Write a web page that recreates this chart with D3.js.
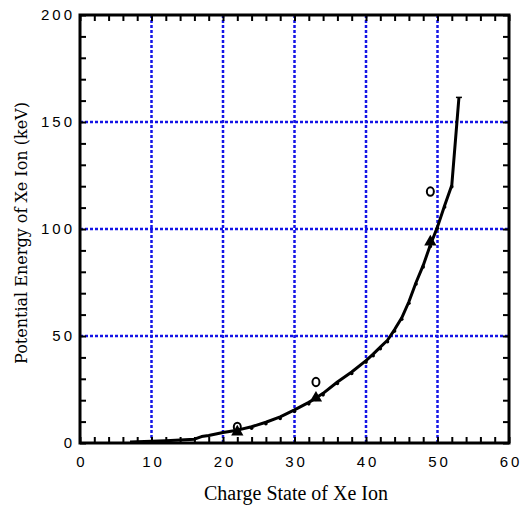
<!DOCTYPE html>
<html>
<head>
<meta charset="utf-8">
<script src="https://cdn.jsdelivr.net/npm/d3@7"></script>
<style>
  body { margin: 0; background: #fff; }
  svg { display: block; }
</style>
</head>
<body>
<svg id="chart"></svg>
<script>
// charge state vs cumulative potential energy (keV)
const curveQ = [7, 8, 10, 12, 14, 16, 17, 18, 20, 22, 24, 26, 28, 30, 32, 33, 34, 36, 38, 40, 41, 42, 43, 44, 45, 46, 47, 48, 49, 50, 51, 52, 53];
const curveE = [0.5, 0.6, 0.8, 1.1, 1.4, 1.8, 3.0, 3.5, 4.9, 6.0, 7.6, 9.7, 12.2, 15.5, 19.0, 21.0, 23.2, 28.5, 33.2, 38.5, 41.5, 44.8, 48.0, 53.0, 58.5, 66.0, 75.0, 83.0, 92.5, 101.0, 111.0, 120.5, 161.5];

const triQ = [22, 33, 49];
const triE = [5.2, 21.0, 94.0];

const circQ = [22, 33, 49];
const circE = [7.5, 28.5, 117.5];

const xTicks = [0, 10, 20, 30, 40, 50, 60];
const yTicks = [0, 50, 100, 150, 200];
const xGrid = [10, 20, 30, 40, 50];
const yGrid = [50, 100, 150];

const width = 522, height = 505;
const margin = {top: 15, right: 13, bottom: 62, left: 80};

const svg = d3.select('#chart')
    .attr('width', width)
    .attr('height', height);

const innerW = width - margin.left - margin.right;
const innerH = height - margin.top - margin.bottom;

const chart = svg.append('g')
    .attr('transform', `translate(${margin.left}, ${margin.top})`);

const xscale = d3.scaleLinear().domain([0, 60]).range([0, innerW]);
const yscale = d3.scaleLinear().domain([0, 200]).range([innerH, 0]);

// grid
chart.selectAll('line.vgrid')
    .data(xGrid)
    .join('line')
    .attr('class', 'vgrid')
    .attr('x1', d => xscale(d)).attr('x2', d => xscale(d))
    .attr('y1', 0).attr('y2', innerH)
    .attr('stroke', '#1414e6')
    .attr('stroke-width', 2.5)
    .attr('stroke-dasharray', '3,2');

chart.selectAll('line.hgrid')
    .data(yGrid)
    .join('line')
    .attr('class', 'hgrid')
    .attr('x1', 0).attr('x2', innerW)
    .attr('y1', d => yscale(d)).attr('y2', d => yscale(d))
    .attr('stroke', '#1414e6')
    .attr('stroke-width', 2.5)
    .attr('stroke-dasharray', '3,2');

// axes with inward ticks on all four sides
const xMinor = d3.range(0, 61, 2);
const yMinor = d3.range(0, 201, 10);

const xBottom = d3.axisBottom(xscale).tickValues(xMinor).tickSize(-6).tickFormat('');
const xTop = d3.axisTop(xscale).tickValues(xMinor).tickSize(-6).tickFormat('');
const yLeft = d3.axisLeft(yscale).tickValues(yMinor).tickSize(-6).tickFormat('');
const yRight = d3.axisRight(yscale).tickValues(yMinor).tickSize(-6).tickFormat('');

chart.append('g').attr('transform', `translate(0, ${innerH})`).call(xBottom);
chart.append('g').call(xTop);
chart.append('g').call(yLeft);
chart.append('g').attr('transform', `translate(${innerW}, 0)`).call(yRight);

chart.selectAll('.domain').remove();
chart.selectAll('.tick line').attr('stroke', '#000').attr('stroke-width', 2);

chart.append('rect')
    .attr('width', innerW)
    .attr('height', innerH)
    .attr('fill', 'none')
    .attr('stroke', '#000')
    .attr('stroke-width', 3);

// tick labels
chart.selectAll('text.xlab')
    .data(xTicks)
    .join('text')
    .attr('class', 'xlab')
    .attr('x', d => xscale(d) + 2)
    .attr('y', innerH + 24)
    .attr('text-anchor', 'middle')
    .style('font-family', 'Liberation Sans, Arial, sans-serif')
    .style('font-size', '15px')
    .style('letter-spacing', '3px')
    .text(d => d);

chart.selectAll('text.ylab')
    .data(yTicks)
    .join('text')
    .attr('class', 'ylab')
    .attr('x', -5)
    .attr('y', d => yscale(d) + 5)
    .attr('text-anchor', 'end')
    .style('font-family', 'Liberation Sans, Arial, sans-serif')
    .style('font-size', '15px')
    .style('letter-spacing', '3px')
    .text(d => d);

// main curve
const pts = curveQ.map((q, i) => ({q: q, e: curveE[i]}));

const line = d3.line()
    .x(d => xscale(d.q))
    .y(d => yscale(d.e));

chart.append('path')
    .datum(pts)
    .attr('fill', 'none')
    .attr('stroke', '#000')
    .attr('stroke-width', 3)
    .attr('stroke-linejoin', 'round')
    .attr('d', line);

chart.selectAll('circle.pt')
    .data(pts.filter(d => d.q >= 24 && d.q < 53))
    .join('circle')
    .attr('class', 'pt')
    .attr('cx', d => xscale(d.q))
    .attr('cy', d => yscale(d.e) + 1.5)
    .attr('r', 1.8)
    .attr('fill', '#000');

// end cap at the last point
const last = pts[pts.length - 1];
chart.append('line')
    .attr('x1', xscale(last.q) - 3).attr('x2', xscale(last.q) + 3)
    .attr('y1', yscale(last.e)).attr('y2', yscale(last.e))
    .attr('stroke', '#000').attr('stroke-width', 1.5);

// filled triangles
const tri = d3.symbol().type(d3.symbolTriangle).size(65);
chart.selectAll('path.tri')
    .data(triQ.map((q, i) => ({q: q, e: triE[i]})))
    .join('path')
    .attr('class', 'tri')
    .attr('transform', d => `translate(${xscale(d.q)}, ${yscale(d.e)})`)
    .attr('d', tri)
    .attr('fill', '#000');

// open circles
chart.selectAll('ellipse.open')
    .data(circQ.map((q, i) => ({q: q, e: circE[i]})))
    .join('ellipse')
    .attr('class', 'open')
    .attr('cx', d => xscale(d.q))
    .attr('cy', d => yscale(d.e))
    .attr('rx', 3.5)
    .attr('ry', 4.2)
    .attr('fill', 'none')
    .attr('stroke', '#000')
    .attr('stroke-width', 2);

// axis titles
svg.append('text')
    .attr('x', 296)
    .attr('y', 500)
    .attr('text-anchor', 'middle')
    .style('font-family', 'Liberation Serif, Times New Roman, serif')
    .style('font-size', '20px')
    .text('Charge State of Xe Ion');

svg.append('text')
    .attr('transform', `translate(27, 233) rotate(-90)`)
    .attr('text-anchor', 'middle')
    .style('font-family', 'DejaVu Serif, serif')
    .style('font-size', '16px')
    .text('Potential Energy of Xe Ion (keV)');
</script>
</body>
</html>
